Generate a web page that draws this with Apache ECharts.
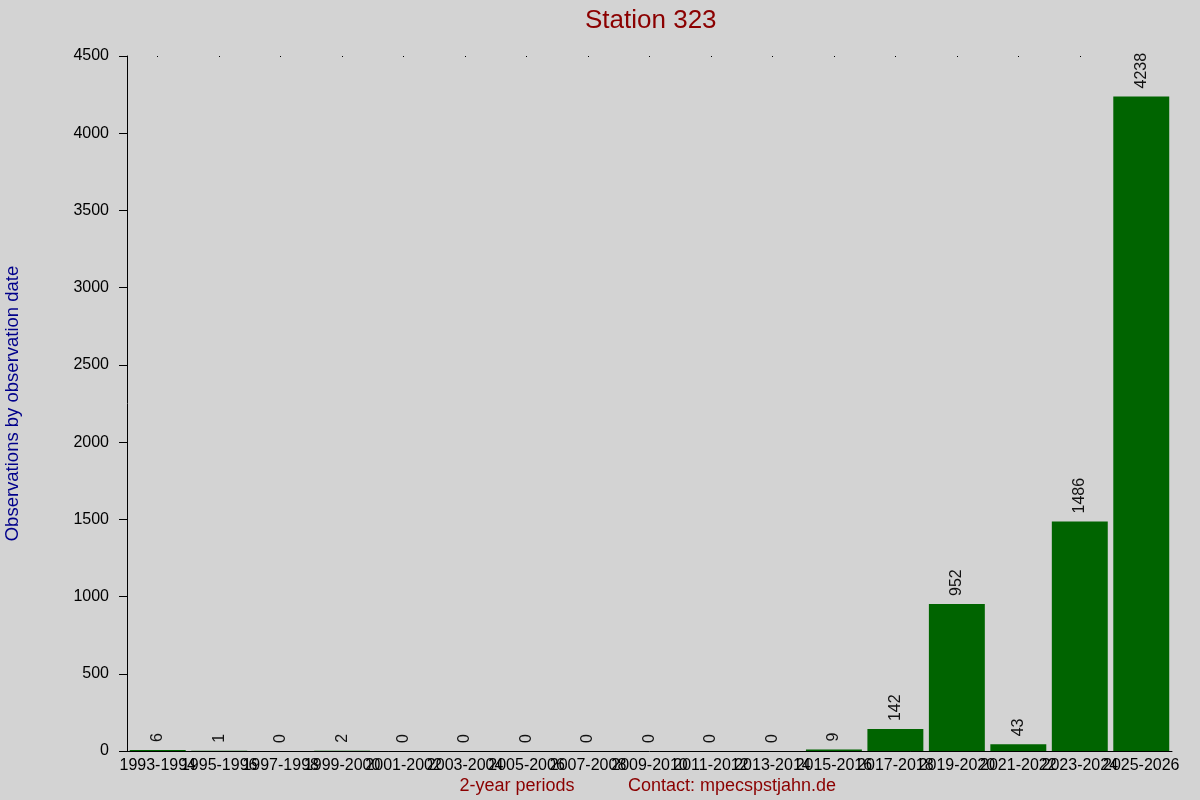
<!DOCTYPE html>
<html><head><meta charset="utf-8">
<script src="https://cdn.jsdelivr.net/npm/echarts@6/dist/echarts.min.js"></script>
<style>html,body{margin:0;padding:0;background:#d3d3d3}#c{width:1200px;height:800px}</style>
</head><body><div id="c"></div>
<script>
const categories = ["1993-1994","1995-1996","1997-1998","1999-2000","2001-2002","2003-2004","2005-2006","2007-2008","2009-2010","2011-2012","2013-2014","2015-2016","2017-2018","2019-2020","2021-2022","2023-2024","2025-2026"];
const observations = [6,1,0,2,0,0,0,0,0,0,0,9,142,952,43,1486,4238];
const yTicks = {min:0, max:4500, interval:500};
const font = "'Liberation Sans', Arial, sans-serif";
const chart = echarts.init(document.getElementById('c'));
chart.setOption({
  backgroundColor:'#d3d3d3',
  animation:false,
  title:{text:'Station 323', left:580, top:3,
    textStyle:{color:'#8b0000', fontSize:26, fontWeight:'normal', fontFamily:font}},
  grid:{left:127, right:28, top:56, bottom:49, containLabel:false, outerBoundsMode:'none'},
  xAxis:[{type:'category', data:categories,
    axisLine:{lineStyle:{color:'#000', width:1}},
    axisTick:{show:false},
    axisLabel:{interval:0, color:'#000', fontSize:16, fontFamily:font, margin:7, hideOverlap:false}
  },{type:'category', data:categories, position:'top',
    axisLine:{show:false}, axisLabel:{show:false},
    axisTick:{show:true, alignWithLabel:true, inside:true, length:1, interval:function(i){return i<16;}, lineStyle:{color:'#000'}}
  }],
  yAxis:{type:'value', min:yTicks.min, max:yTicks.max, interval:yTicks.interval,
    name:'Observations by observation date', nameLocation:'middle', nameGap:105,
    nameTextStyle:{color:'#00008b', fontSize:18.5, fontFamily:font},
    axisLine:{show:true, lineStyle:{color:'#000'}},
    axisTick:{show:true, length:8, lineStyle:{color:'#000'}},
    splitLine:{show:false},
    axisLabel:{color:'#000', fontSize:16, fontFamily:font, margin:18, formatter:function(v){return String(v);}}
  },
  graphic:[
    {type:'text', x:517, y:777, style:{text:'2-year periods', fill:'#8b0000', font:'18px '+font, textAlign:'center'}},
    {type:'text', x:732, y:777, style:{text:'Contact: mpecspstjahn.de', fill:'#8b0000', font:'18px '+font, textAlign:'center'}}
  ],
  series:[{type:'bar', data:observations, barCategoryGap:'9%',
    itemStyle:{color:'#006400'},
    label:{show:true, position:'top', rotate:90, align:'left', verticalAlign:'middle', distance:8,
      color:'#111', fontSize:16, fontFamily:font}
  }]
});
</script></body></html>
